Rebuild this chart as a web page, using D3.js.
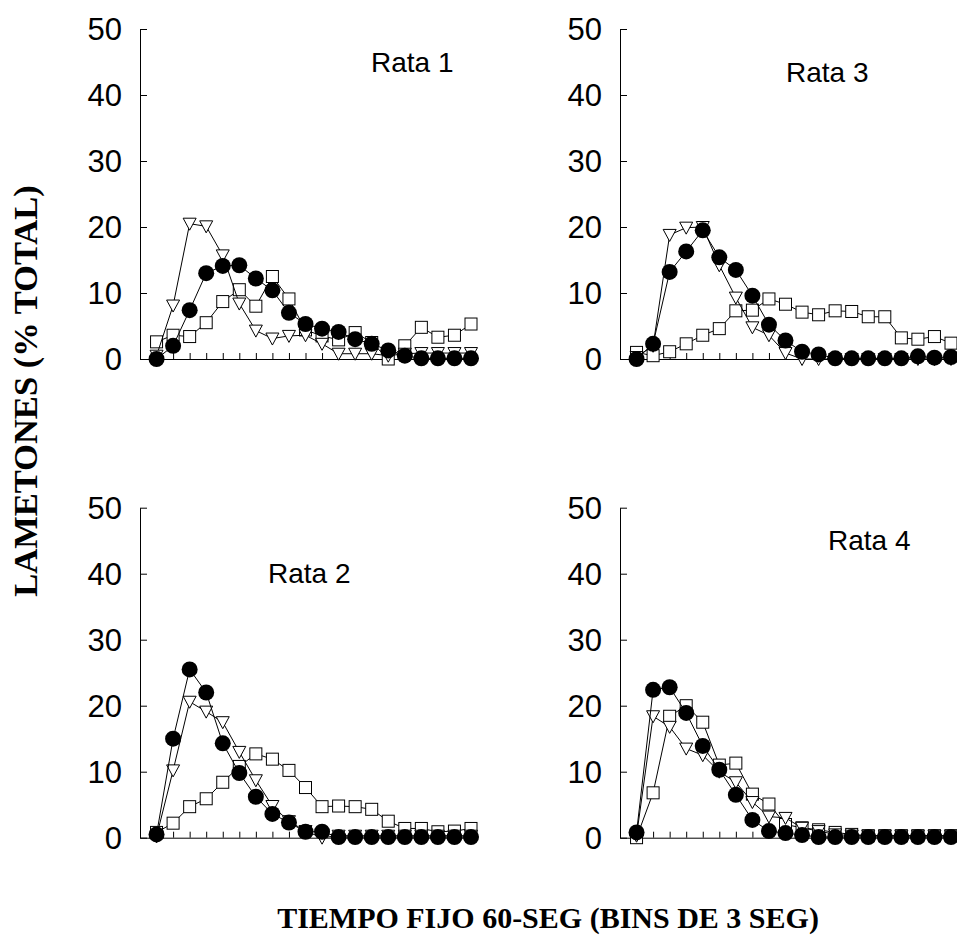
<!DOCTYPE html>
<html>
<head>
<meta charset="utf-8">
<script src="https://cdn.jsdelivr.net/npm/d3@7"></script>
<style>
  body { margin: 0; background: #fff; }
  svg { display: block; }
</style>
</head>
<body>
<script>
// bins (3 s each) on the x axis
const bins = [1, 2, 3, 4, 5, 6, 7, 8, 9, 10, 11, 12, 13, 14, 15, 16, 17, 18, 19, 20];
const yTicks = [0, 10, 20, 30, 40, 50];

// Rata 1
const rata1Circles   = [0, 2.0, 7.4, 13.0, 14.1, 14.2, 12.2, 10.4, 7.0, 5.3, 4.6, 4.1, 3.0, 2.3, 1.3, 0.5, 0.1, 0.1, 0.1, 0.1];
const rata1Triangles = [0.5, 8.1, 20.5, 20.1, 15.7, 8.4, 4.3, 3.1, 3.5, 3.6, 2.3, 0.8, 0.8, 0.8, 0.5, 0.8, 0.9, 0.9, 0.9, 0.9];
const rata1Squares   = [2.6, 3.6, 3.4, 5.5, 8.7, 10.5, 8.0, 12.5, 9.1, 4.4, 3.5, 2.9, 4.0, 2.5, 0, 2.0, 4.8, 3.3, 3.6, 5.3];

// Rata 3
const rata3Circles   = [0, 2.3, 13.2, 16.3, 19.5, 15.4, 13.5, 9.6, 5.2, 2.8, 1.1, 0.7, 0.1, 0.1, 0.1, 0.1, 0.1, 0.4, 0.2, 0.3];
const rata3Triangles = [0.3, 2.0, 18.8, 19.9, 20.0, 14.2, 9.3, 4.8, 3.6, 0.9, 0, 0, 0, 0, 0, 0, 0, 0, 0, 0];
const rata3Squares   = [1.0, 0.5, 1.1, 2.3, 3.6, 4.6, 7.3, 7.4, 9.1, 8.3, 7.1, 6.7, 7.3, 7.2, 6.4, 6.4, 3.2, 3.0, 3.4, 2.4];

// Rata 2
const rata2Circles   = [0.5, 15.0, 25.5, 22.0, 14.3, 9.8, 6.2, 3.6, 2.3, 0.9, 0.9, 0.1, 0.1, 0.1, 0.1, 0.1, 0.1, 0.1, 0.1, 0.1];
const rata2Triangles = [0.2, 10.2, 20.6, 19.1, 17.5, 13.0, 8.7, 4.8, 2.5, 1.0, 0, 0.3, 0.3, 0.3, 0.3, 0.3, 0.3, 0.3, 0.3, 0.3];
const rata2Squares   = [0.8, 2.2, 4.7, 5.9, 8.4, 10.8, 12.7, 11.9, 10.2, 7.6, 4.7, 4.8, 4.7, 4.3, 2.5, 1.4, 1.4, 0.9, 1.0, 1.4];

// Rata 4
const rata4Circles   = [0.8, 22.4, 22.8, 18.9, 13.9, 10.3, 6.5, 2.7, 1.0, 0.7, 0.4, 0.1, 0.1, 0.1, 0.1, 0.1, 0.1, 0.1, 0.1, 0.1];
const rata4Triangles = [0.3, 18.4, 16.8, 13.5, 12.5, 10.0, 8.4, 5.4, 3.2, 3.0, 1.5, 1.0, 0.5, 0.3, 0.3, 0.3, 0.3, 0.3, 0.3, 0.3];
const rata4Squares   = [0, 6.8, 18.4, 20.0, 17.5, 11.0, 11.3, 6.6, 5.1, 2.0, 1.5, 1.2, 0.8, 0.5, 0.3, 0.3, 0.3, 0.3, 0.3, 0.3];

const width = 957, height = 943;

const svg = d3.select("body").append("svg")
    .attr("width", width)
    .attr("height", height);

// panel layout: axis origin + label placement
const panels = [
  { name: "Rata 1", x0: 140, y0: 359,   lx: 371, ly: 72,  circles: rata1Circles, triangles: rata1Triangles, squares: rata1Squares },
  { name: "Rata 3", x0: 620, y0: 359,   lx: 786, ly: 82,  circles: rata3Circles, triangles: rata3Triangles, squares: rata3Squares },
  { name: "Rata 2", x0: 140, y0: 837.7, lx: 268, ly: 583, circles: rata2Circles, triangles: rata2Triangles, squares: rata2Squares },
  { name: "Rata 4", x0: 620, y0: 837.7, lx: 828, ly: 550, circles: rata4Circles, triangles: rata4Triangles, squares: rata4Squares }
];

const triPath = "M-6.5,-5.5L6.5,-5.5L0,6.5Z";

panels.forEach(function(p) {
  const xScale = d3.scaleLinear().domain([0, 20]).range([p.x0, p.x0 + 331]);
  const yScale = d3.scaleLinear().domain([0, 50]).range([p.y0, p.y0 - 330]);

  const g = svg.append("g");

  // y axis, ticks pointing inside
  const yAxis = g.append("g")
      .attr("transform", "translate(" + p.x0 + ",0)")
      .call(d3.axisRight(yScale).tickValues(yTicks).tickSize(7).tickSizeOuter(0).tickFormat(""));
  yAxis.select(".domain").attr("stroke", "#000");

  // y tick labels
  g.selectAll(".ylab")
    .data(yTicks)
    .enter().append("text")
      .attr("x", p.x0 - 18)
      .attr("y", d => yScale(d))
      .attr("dy", "0.36em")
      .attr("text-anchor", "end")
      .style("font-family", "Arial, 'Liberation Sans', sans-serif")
      .style("font-size", "31px")
      .text(d => d);

  // x axis, ticks pointing up
  g.append("g")
      .attr("transform", "translate(0," + p.y0 + ")")
      .call(d3.axisTop(xScale).tickValues(bins).tickSize(6).tickSizeOuter(0).tickFormat(""));

  const line = d3.line()
      .x((d, i) => xScale(bins[i]))
      .y(d => yScale(d));

  // squares
  g.append("path").datum(p.squares)
      .attr("d", line).attr("fill", "none").attr("stroke", "#000").attr("stroke-width", 1);
  g.selectAll(".sq").data(p.squares).enter().append("rect")
      .attr("x", (d, i) => xScale(bins[i]) - 6)
      .attr("y", d => yScale(d) - 6)
      .attr("width", 12).attr("height", 12)
      .attr("fill", "#fff").attr("stroke", "#000").attr("stroke-width", 1);

  // triangles
  g.append("path").datum(p.triangles)
      .attr("d", line).attr("fill", "none").attr("stroke", "#000").attr("stroke-width", 1);
  g.selectAll(".tri").data(p.triangles).enter().append("path")
      .attr("d", triPath)
      .attr("transform", (d, i) => "translate(" + xScale(bins[i]) + "," + yScale(d) + ")")
      .attr("fill", "#fff").attr("stroke", "#000").attr("stroke-width", 1);

  // filled circles
  g.append("path").datum(p.circles)
      .attr("d", line).attr("fill", "none").attr("stroke", "#000").attr("stroke-width", 1);
  g.selectAll(".dot").data(p.circles).enter().append("circle")
      .attr("cx", (d, i) => xScale(bins[i]))
      .attr("cy", d => yScale(d))
      .attr("r", 8)
      .attr("fill", "#000");

  // panel label
  g.append("text")
      .attr("x", p.lx)
      .attr("y", p.ly)
      .style("font-family", "Arial, 'Liberation Sans', sans-serif")
      .style("font-size", "28px")
      .text(p.name);
});

// axis titles
svg.append("text")
    .attr("transform", "translate(37,391) rotate(-90)")
    .attr("text-anchor", "middle")
    .style("font-family", "'Times New Roman', 'Liberation Serif', serif")
    .style("font-weight", "bold")
    .style("font-size", "34.5px")
    .text("LAMETONES (% TOTAL)");

svg.append("text")
    .attr("x", 548)
    .attr("y", 928)
    .attr("text-anchor", "middle")
    .style("font-family", "'Times New Roman', 'Liberation Serif', serif")
    .style("font-weight", "bold")
    .style("font-size", "30px")
    .text("TIEMPO FIJO 60-SEG (BINS DE 3 SEG)");
</script>
</body>
</html>
